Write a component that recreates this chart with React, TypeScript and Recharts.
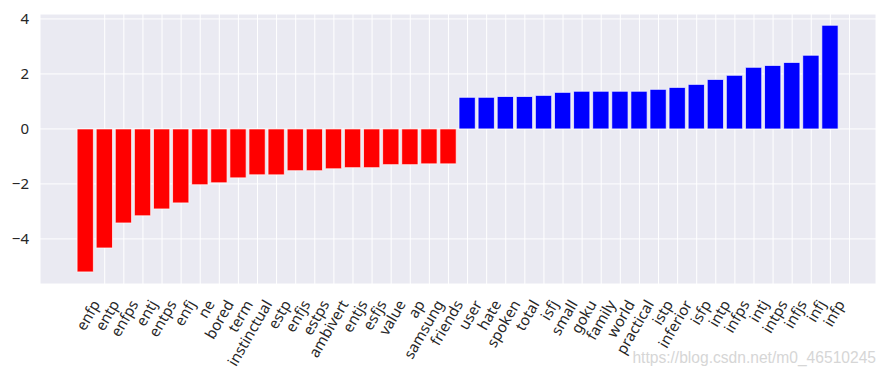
import { Bar, BarChart, CartesianGrid, Cell, XAxis, YAxis } from 'recharts'

const words = [
  'enfp', 'entp', 'enfps', 'entj', 'entps', 'enfj', 'ne', 'bored', 'term', 'instinctual',
  'estp', 'enfjs', 'estps', 'ambivert', 'entjs', 'esfjs', 'value', 'ap', 'samsung', 'friends',
  'user', 'hate', 'spoken', 'total', 'isfj', 'small', 'goku', 'family', 'world', 'practical',
  'istp', 'inferior', 'isfp', 'intp', 'infps', 'intj', 'intps', 'infjs', 'infj', 'infp',
]

const weights = [
  -5.2, -4.33, -3.42, -3.16, -2.91, -2.69, -2.03, -1.96, -1.78, -1.67,
  -1.67, -1.52, -1.52, -1.45, -1.41, -1.41, -1.3, -1.3, -1.27, -1.27,
  1.15, 1.15, 1.18, 1.18, 1.22, 1.33, 1.37, 1.37, 1.37, 1.37,
  1.44, 1.51, 1.62, 1.8, 1.95, 2.24, 2.31, 2.42, 2.68, 3.77,
]

// labels sit on ticks 1..40 while bars sit on 0..39 (as in the original plot)
const xTicks = words.map((_, i) => i + 1)
const yTicks = [-4, -2, 0, 2, 4]

const data = weights.map((w, i) => ({ pos: i, weight: w, word: words[i] }))

const FONT = '"Noto Sans", sans-serif'
const INK = '#262626'

function WordTick({ x, y, payload }: any) {
  const label = words[payload.value - 1] ?? ''
  const ax = x - 4
  const ay = y + 18
  return (
    <text
      x={ax}
      y={ay}
      transform={`rotate(-60 ${ax} ${ay})`}
      textAnchor="end"
      fontSize={15}
      fontFamily={FONT}
      fill={INK}
    >
      {label}
    </text>
  )
}

export default function App() {
  return (
    <div style={{ position: 'absolute', left: 0, top: 0, width: 889, height: 378, background: '#fff' }}>
      <BarChart
        width={889}
        height={378}
        data={data}
        margin={{ top: 14, right: 13, left: 0, bottom: 0 }}
      >
        <CartesianGrid stroke="#ffffff" strokeWidth={1} fill="#EAEAF2" fillOpacity={1} />
        <XAxis
          dataKey="pos"
          type="number"
          domain={[-2.39, 41.39]}
          ticks={xTicks}
          interval={0}
          axisLine={false}
          tickLine={false}
          tickSize={0}
          height={94}
          tick={<WordTick />}
        />
        <YAxis
          type="number"
          domain={[-5.64, 4.18]}
          ticks={yTicks}
          width={40}
          axisLine={false}
          tickLine={false}
          tickSize={0}
          tickMargin={11}
          tickFormatter={(v: number) => (v < 0 ? `\u2212${Math.abs(v)}` : `${v}`)}
          tick={{ fontSize: 15, fill: INK, fontFamily: FONT }}
        />
        <Bar dataKey="weight" barSize={16.3} stroke="#ffffff" strokeWidth={0.7} isAnimationActive={false}>
          {data.map((d) => (
            <Cell key={d.word} fill={d.weight < 0 ? '#ff0000' : '#0000ff'} />
          ))}
        </Bar>
      </BarChart>
      <div
        style={{
          position: 'absolute',
          right: 13,
          top: 349,
          fontFamily: '"Liberation Sans", Arial, sans-serif',
          fontSize: 15.6,
          color: '#d6d6d6',
          whiteSpace: 'nowrap',
        }}
      >
        https://blog.csdn.net/m0_46510245
      </div>
    </div>
  )
}
